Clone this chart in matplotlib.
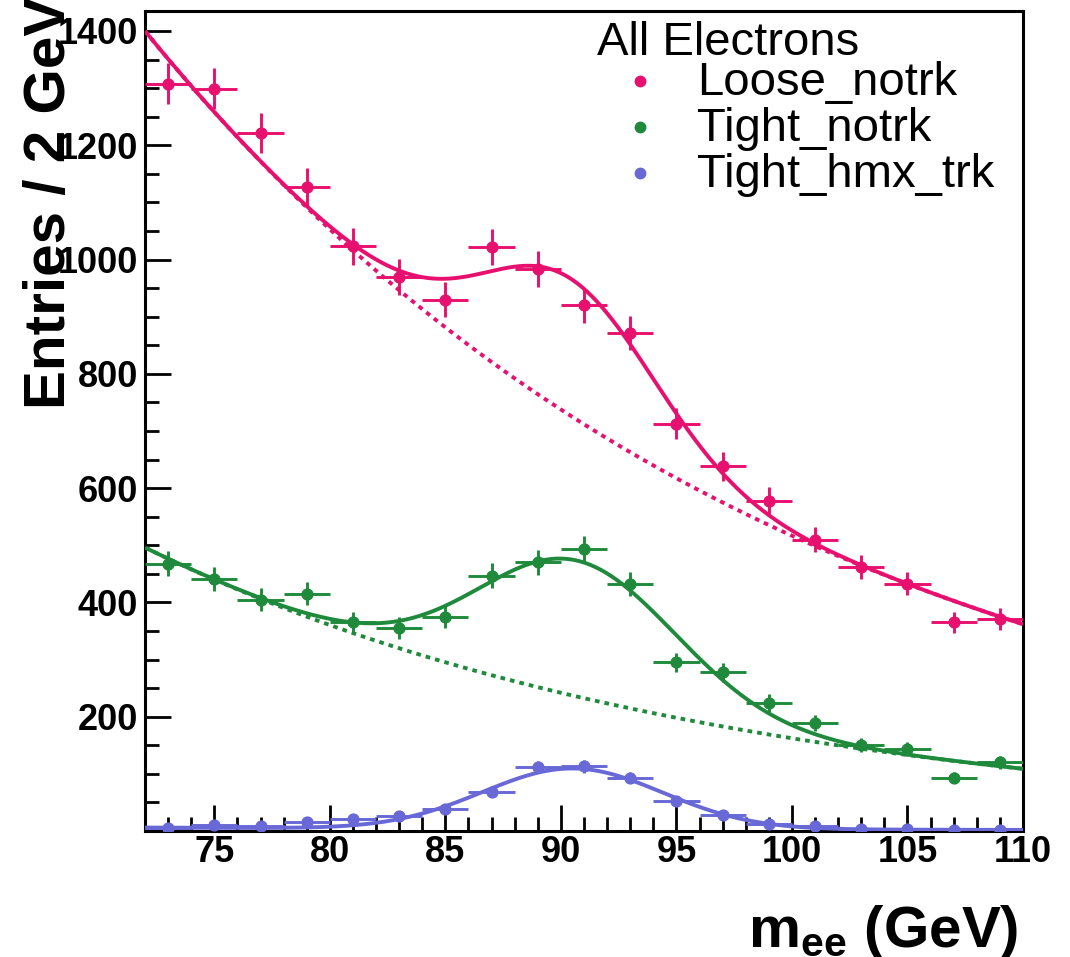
import numpy as np
import matplotlib
matplotlib.use("Agg")
import matplotlib.pyplot as plt
from matplotlib.ticker import MultipleLocator, FixedLocator

# ---------------- data ----------------
bin_centers = [73, 75, 77, 79, 81, 83, 85, 87, 89, 91,
               93, 95, 97, 99, 101, 103, 105, 107, 109]
bin_half_width = 1.0

loose_notrk = [1308, 1299, 1221, 1127, 1023, 969, 930, 1022, 984, 920,
               871, 713, 638, 578, 510, 462, 433, 365, 371]
tight_notrk = [468, 441, 405, 415, 365, 355, 375, 447, 470, 494,
               432, 295, 278, 224, 189, 150, 144, 93, 120]
tight_hmx_trk = [5, 11, 9, 15, 21, 26, 39, 68, 112, 113,
                 93, 53, 28, 13, 8, 3, 3, 1, 1]

# fit parameters: [background at 72, background slope, peak height, mean, sigma]
loose_fit = [1400.0, 0.0356, 240.0, 90.4, 3.75]
tight_fit = [496.0, 0.0399, 238.0, 90.7, 4.3]
hmx_fit = [6.0, 0.030, 106.0, 90.5, 3.9]

series_names = ["Loose_notrk", "Tight_notrk", "Tight_hmx_trk"]
legend_title = "All Electrons"
x_ticks = [75, 80, 85, 90, 95, 100, 105, 110]
y_ticks = [200, 400, 600, 800, 1000, 1200, 1400]
x_range = [72, 110]
y_range = [0, 1435]

colors = ["#e8106e", "#1f8a3b", "#6868d6"]

# ---------------- style ----------------
plt.rcParams["font.family"] = ["Liberation Sans", "DejaVu Sans"]
plt.rcParams["mathtext.fontset"] = "custom"
plt.rcParams["mathtext.rm"] = "Liberation Sans"
plt.rcParams["mathtext.bf"] = "Liberation Sans:bold"

W, H = 1070, 957
fig = plt.figure(figsize=(W / 100, H / 100), dpi=100)
ax = fig.add_axes([145 / W, 1 - 831 / H, (1023 - 145) / W, (831 - 11) / H])


def background(x, p):
    return p[0] * np.exp(-p[1] * (x - x_range[0]))


def total(x, p):
    return background(x, p) + p[2] * np.exp(-0.5 * ((x - p[3]) / p[4]) ** 2)


xf = np.linspace(x_range[0], x_range[1], 500)
fits = [loose_fit, tight_fit, hmx_fit]
data = [loose_notrk, tight_notrk, tight_hmx_trk]

for i, (vals, p, c) in enumerate(zip(data, fits, colors)):
    if i < 2:
        ax.plot(xf, background(xf, p), color=c, lw=2.8,
                linestyle=(0, (1.2, 1.3)), zorder=2)
    ax.plot(xf, total(xf, p), color=c, lw=2.8, zorder=3,
            solid_capstyle="butt")
    v = np.array(vals, dtype=float)
    ax.errorbar(bin_centers, v, xerr=bin_half_width, yerr=np.sqrt(v),
                fmt="o", color=c, ms=7.8, elinewidth=2.1, capsize=0,
                zorder=4)

ax.set_xlim(*x_range)
ax.set_ylim(*y_range)
ax.xaxis.set_major_locator(FixedLocator(x_ticks))
ax.xaxis.set_minor_locator(MultipleLocator(1))
ax.yaxis.set_major_locator(FixedLocator(y_ticks))
ax.yaxis.set_minor_locator(MultipleLocator(50))
ax.tick_params(which="both", direction="in", top=False, right=False,
               width=2.0, labelsize=26)
ax.tick_params(which="major", length=19)
ax.tick_params(which="minor", length=10)
ax.tick_params(axis="y", pad=5)
ax.tick_params(axis="x", pad=3)
for lab in ax.get_xticklabels() + ax.get_yticklabels():
    lab.set_fontweight("bold")
for s in ax.spines.values():
    s.set_linewidth(2.2)

# axis titles
fig.text(65 / W, 1.003, "Entries / 2 GeV", rotation=90, rotation_mode="anchor",
         ha="right", va="baseline", fontsize=42, fontweight="bold")
fig.text(1018 / W, 1 - 947 / H, r"$\mathbf{m}_{\mathbf{ee}}$ (GeV)",
         ha="right", va="baseline", fontsize=42, fontweight="bold")

# legend
fig.text(597 / W, 1 - 55 / H, legend_title, fontsize=34, ha="left",
         va="baseline")
rows = [95, 141, 187]
for name, c, yb in zip(series_names, colors, rows):
    fig.text(697 / W, 1 - yb / H, name, fontsize=34, ha="left", va="baseline")
    ax.plot([640 / W], [1 - (yb - 14) / H], "o", color=c, ms=7.5,
            transform=fig.transFigure, clip_on=False)

fig.savefig("out.png", dpi=100)
